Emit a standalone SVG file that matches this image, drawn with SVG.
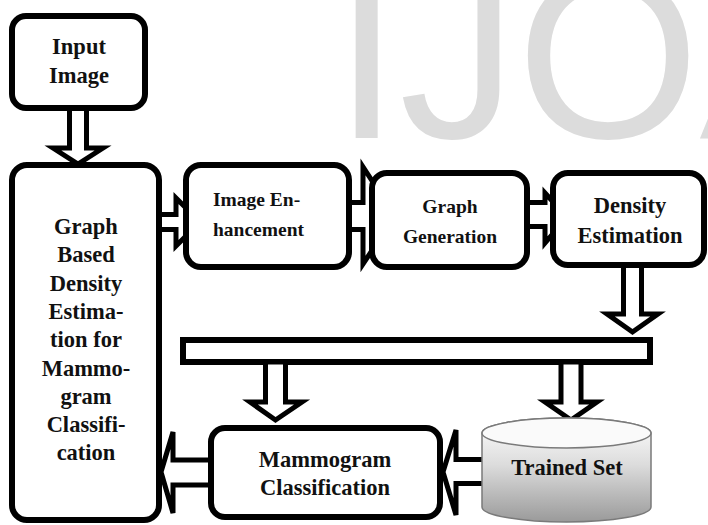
<svg xmlns="http://www.w3.org/2000/svg" width="708" height="525" viewBox="0 0 708 525">
<defs>
<linearGradient id="cyl" x1="0" y1="0" x2="0" y2="1">
<stop offset="0" stop-color="#ffffff"/>
<stop offset="0.45" stop-color="#dcdcdc"/>
<stop offset="1" stop-color="#9a9a9a"/>
</linearGradient>
<style>
.box{fill:#fff;stroke:#000;stroke-width:6}
.arr{fill:#fff;stroke:#000;stroke-width:5;stroke-linejoin:miter}
.lb{font-family:"Liberation Serif","Times New Roman",serif;font-weight:bold;font-size:22.5px;fill:#111;text-anchor:middle}
.sm{font-size:19.5px}
.wm{font-family:"Liberation Sans",Arial,sans-serif;font-size:235px;fill:#dcdcdc}
</style>
</defs>
<rect width="708" height="525" fill="#fff"/>
<text class="wm" x="334" y="138">IJOA</text>
<g id="connectors">
<rect x="183" y="340" width="467" height="22" class="arr" style="stroke-width:6"/>
<polygon class="arr" points="69.5,106 86.5,106 86.5,148 103,148 78,164 53,148 69.5,148"/>
<polygon class="arr" points="623.5,264 641.5,264 641.5,314 658,314 632.5,332 607,314 623.5,314"/>
<polygon class="arr" points="265.5,362 285.5,362 285.5,402 302,402 275.5,420 250,402 265.5,402"/>
<polygon class="arr" points="561,362 581,362 581,402 597,402 571,420 545,402 561,402"/>
<polygon class="arr" points="155,214.5 176,214.5 176,198 200,222 176,246 176,229.5 155,229.5"/>
<polygon class="arr" points="342,202.5 363,202.5 363,167 395,216 363,264 363,229.5 342,229.5"/>
<polygon class="arr" points="524,202.5 545,202.5 545,193 567,217 545,243 545,226.5 524,226.5"/>
<polygon class="arr" points="214,460 173,460 173,432 161,472 173,513 173,485 214,485"/>
<polygon class="arr" points="488,459.5 456,459.5 456,430 443,472 456,515 456,483.5 488,483.5"/>
</g>
<g id="input-image">
<rect class="box" x="12" y="16" width="133" height="92" rx="14"/>
<text class="lb" x="79" y="54">Input</text>
<text class="lb" x="79" y="83">Image</text>
</g>
<g id="graph-based">
<rect class="box" x="12" y="165" width="147" height="355" rx="15"/>
<text class="lb" x="86" y="234">Graph</text>
<text class="lb" x="86" y="262.3">Based</text>
<text class="lb" x="86" y="290.6">Density</text>
<text class="lb" x="86" y="318.9">Estima-</text>
<text class="lb" x="86" y="347.2">tion for</text>
<text class="lb" x="86" y="375.5">Mammo-</text>
<text class="lb" x="86" y="403.8">gram</text>
<text class="lb" x="86" y="432.1">Classifi-</text>
<text class="lb" x="86" y="460.4">cation</text>
</g>
<g id="image-enhancement">
<rect class="box" x="186" y="165" width="163" height="102" rx="15"/>
<text class="lb sm" x="213" y="206" style="text-anchor:start">Image En-</text>
<text class="lb sm" x="213" y="236" style="text-anchor:start">hancement</text>
</g>
<g id="graph-generation">
<rect class="box" x="372" y="173" width="155" height="94" rx="15"/>
<text class="lb sm" x="450" y="213">Graph</text>
<text class="lb sm" x="450" y="243">Generation</text>
</g>
<g id="density-estimation">
<rect class="box" x="553" y="173" width="151" height="92" rx="15"/>
<text class="lb" x="630" y="213">Density</text>
<text class="lb" x="630" y="243">Estimation</text>
</g>
<g id="mammogram-classification">
<rect class="box" x="211" y="428" width="229" height="89" rx="14"/>
<text class="lb" x="325" y="467">Mammogram</text>
<text class="lb" x="325" y="495">Classification</text>
</g>
<g id="trained-set">
<path d="M482,433 A84.5,15 0 0,1 651,433 L651,507 A84.5,15 0 0,1 482,507 Z" fill="url(#cyl)" stroke="#7a7a7a" stroke-width="1.5"/>
<ellipse cx="566.5" cy="433" rx="84.5" ry="15" fill="#fafafa" stroke="#7a7a7a" stroke-width="1.5"/>
<text class="lb" x="567" y="475">Trained Set</text>
</g>
</svg>
